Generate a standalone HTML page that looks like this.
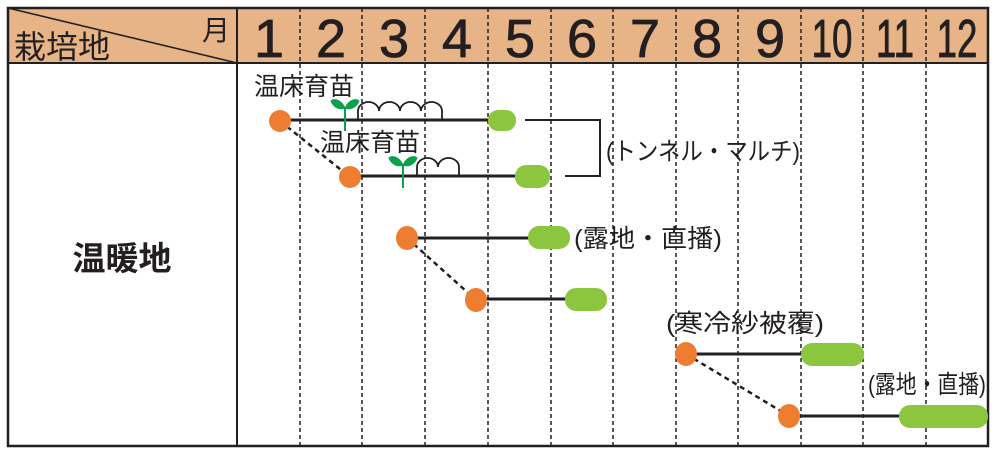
<!DOCTYPE html>
<html><head><meta charset="utf-8"><style>
body{margin:0;background:#fff;}
svg text{font-family:"Liberation Sans","Noto Sans CJK JP",sans-serif;fill:#231f20;}
</style></head><body>
<svg width="1000" height="458" viewBox="0 0 1000 458" xmlns="http://www.w3.org/2000/svg">
<rect x="8" y="8" width="980" height="55" fill="#e6b486"/>
<line x1="8" y1="8" x2="237" y2="63" stroke="#231f20" stroke-width="1.5"/>
<text x="14" y="58" font-size="32">栽培地</text>
<text x="202" y="40" font-size="28">月</text>
<g stroke="#231f20" stroke-width="1.5" stroke-dasharray="4,3">
<line x1="300" y1="8" x2="300" y2="446"/><line x1="362" y1="8" x2="362" y2="446"/>
<line x1="425" y1="8" x2="425" y2="446"/><line x1="488" y1="8" x2="488" y2="446"/>
<line x1="551" y1="8" x2="551" y2="446"/><line x1="613" y1="8" x2="613" y2="446"/>
<line x1="676" y1="8" x2="676" y2="446"/><line x1="738" y1="8" x2="738" y2="446"/>
<line x1="801" y1="8" x2="801" y2="446"/><line x1="863" y1="8" x2="863" y2="446"/>
<line x1="926" y1="8" x2="926" y2="446"/>
</g>
<g font-size="54" text-anchor="middle" stroke="#231f20" stroke-width="0.8">
<text x="269" y="57">1</text><text x="331" y="57">2</text><text x="394" y="57">3</text>
<text x="457" y="57">4</text><text x="520" y="57">5</text><text x="582" y="57">6</text>
<text x="645" y="57">7</text><text x="707" y="57">8</text><text x="770" y="57">9</text>
<text x="832" y="57" transform="translate(832 0) scale(0.68 1) translate(-832 0)">10</text>
<text x="895" y="57" transform="translate(895 0) scale(0.68 1) translate(-895 0)">11</text>
<text x="957" y="57" transform="translate(957 0) scale(0.68 1) translate(-957 0)">12</text>
</g>
<rect x="8" y="8" width="980" height="438" fill="none" stroke="#231f20" stroke-width="2.5"/>
<line x1="8" y1="63" x2="988" y2="63" stroke="#231f20" stroke-width="2"/>
<line x1="237" y1="8" x2="237" y2="446" stroke="#231f20" stroke-width="2"/>
<text x="122" y="270" font-size="33" font-weight="bold" text-anchor="middle">温暖地</text>

<g stroke="#231f20" stroke-width="2.5" stroke-dasharray="5,4">
<line x1="280" y1="121" x2="350" y2="177"/>
<line x1="407" y1="238" x2="476" y2="300"/>
<line x1="686" y1="354" x2="789" y2="416"/>
</g>
<g stroke="#231f20" stroke-width="3">
<line x1="280" y1="120" x2="495" y2="120"/>
<line x1="350" y1="176" x2="520" y2="176"/>
<line x1="407" y1="238" x2="535" y2="238"/>
<line x1="476" y1="299" x2="570" y2="299"/>
<line x1="686" y1="354" x2="806" y2="354"/>
<line x1="789" y1="416" x2="905" y2="416"/>
</g>
<g fill="none" stroke="#231f20" stroke-width="1.8">
<path d="M358 120 V111 a10.5 9 0 0 1 21 0 a10.5 9 0 0 1 21 0 a10.5 9 0 0 1 21 0 a10.5 9 0 0 1 21 0 V120"/>
<path d="M417 176 V167 a10.5 9 0 0 1 21 0 a10.5 9 0 0 1 21 0 V176"/>
</g>
<g fill="#0aa14b" stroke="#0aa14b">
<path d="M345 131 V107" stroke-width="2" fill="none"/>
<path d="M345 108 C340 98 333 99 331 101 C334 108 340 110 345 108Z"/>
<path d="M345 108 C350 98 357 99 359 101 C356 108 350 110 345 108Z"/>
<path d="M403 188 V164" stroke-width="2" fill="none"/>
<path d="M403 165 C398 155 391 156 389 158 C392 165 398 167 403 165Z"/>
<path d="M403 165 C408 155 415 156 417 158 C414 165 408 167 403 165Z"/>
</g>
<path d="M525 120 H600 V176 H565" fill="none" stroke="#231f20" stroke-width="2"/>
<g fill="#ef7d31">
<ellipse cx="280" cy="121" rx="11" ry="11"/>
<ellipse cx="350" cy="177" rx="11" ry="11"/>
<ellipse cx="407" cy="238" rx="11" ry="12"/>
<ellipse cx="476" cy="300" rx="11" ry="12"/>
<ellipse cx="686" cy="354" rx="11" ry="12"/>
<ellipse cx="789" cy="416" rx="11" ry="12"/>
</g>
<g fill="#8cc63f">
<rect x="488" y="110" width="28" height="21" rx="10"/>
<rect x="515" y="165" width="35" height="23" rx="11"/>
<rect x="528" y="226" width="42" height="23" rx="11"/>
<rect x="565" y="288" width="42" height="23" rx="11"/>
<rect x="801" y="343" width="63" height="23" rx="11"/>
<rect x="899" y="405" width="89" height="23" rx="11"/>
</g>
<g font-size="25">
<text x="254" y="95">温床育苗</text>
<text x="320" y="151">温床育苗</text>
<text x="606" y="160" textLength="194" lengthAdjust="spacingAndGlyphs">(トンネル・マルチ)</text>
<text x="574" y="247" textLength="148" lengthAdjust="spacingAndGlyphs">(露地・直播)</text>
<text x="666" y="332" textLength="158" lengthAdjust="spacingAndGlyphs">(寒冷紗被覆)</text>
<text x="868" y="393" textLength="118" lengthAdjust="spacingAndGlyphs">(露地・直播)</text>
</g>
</svg>
</body></html>
